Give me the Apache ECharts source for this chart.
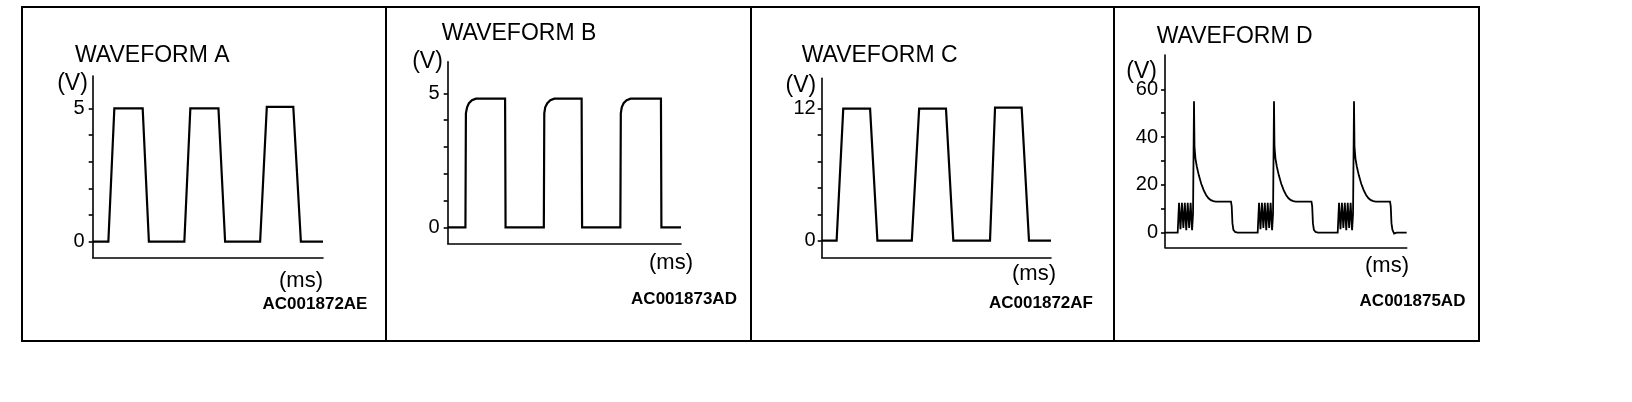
<!DOCTYPE html>
<html><head><meta charset="utf-8">
<script src="https://cdn.jsdelivr.net/npm/echarts@6/dist/echarts.min.js"></script>
<style>html,body{margin:0;padding:0;background:#fff}#c{width:1632px;height:402px}</style>
</head><body><div id="c"></div>
<script>
// ---- text ----
const panelTitles = ['WAVEFORM A', 'WAVEFORM B', 'WAVEFORM C', 'WAVEFORM D'];
const panelCodes = ['AC001872AE', 'AC001873AD', 'AC001872AF', 'AC001875AD'];
const yUnit = '(V)';
const xUnit = '(ms)';

// ---- waveform A (0..5 V) ----
const timeA = [0, 6.8, 9.4, 21.7, 24.4, 39.8, 42.4, 54.6, 57.5, 72.7, 75.6, 87.1, 90.4, 100];
const voltA = [0, 0, 5, 5, 0, 0, 5, 5, 0, 0, 5.05, 5.05, 0, 0];
const yTicksA = [0, 1, 2, 3, 4, 5];
const yLabelsA = [0, 5];

// ---- waveform B (0..5 V) ----
const timeB = [0, 7.6, 7.8, 8.3, 9.1, 10.4, 12.1, 24.6, 24.8, 41.2, 41.4, 41.8, 42.7, 44.0, 45.7, 57.4, 57.6, 74.0, 74.2, 74.6, 75.4, 76.7, 78.4, 91.4, 91.6, 100];
const voltB = [0, 0, 4.25, 4.48, 4.63, 4.74, 4.8, 4.8, 0, 0, 4.25, 4.48, 4.63, 4.74, 4.8, 4.8, 0, 0, 4.25, 4.48, 4.63, 4.74, 4.8, 4.8, 0, 0];
const yTicksB = [0, 1, 2, 3, 4, 5];
const yLabelsB = [0, 5];

// ---- waveform C (0..12 V) ----
const timeC = [0, 6.5, 9.4, 21.1, 24.3, 39.3, 42.5, 54.2, 57.4, 73.4, 75.6, 87.2, 90.4, 100];
const voltC = [0, 0, 12, 12, 0, 0, 12, 12, 0, 0, 12.1, 12.1, 0, 0];
const yTicksC = [0, 2.4, 4.8, 7.2, 9.6, 12];
const yLabelsC = [0, 12];

// ---- waveform D (0..60 V) ----
const timeD = [0, 5.25, 5.8, 6.4, 7.0, 7.6, 8.2, 8.8, 9.4, 10.0, 10.6, 11.2, 11.6, 12.0, 12.2, 12.6, 13.2, 14.0, 15.0, 16.0, 17.0, 18.0, 19.0, 20.0, 21.0, 27.3, 27.6, 27.9, 28.3, 29.0, 30.0,
  38.35, 38.9, 39.5, 40.1, 40.7, 41.3, 41.9, 42.5, 43.1, 43.7, 44.3, 44.7, 45.1, 45.3, 45.7, 46.3, 47.1, 48.1, 49.1, 50.1, 51.1, 52.1, 53.1, 54.1, 60.6, 60.9, 61.2, 61.6, 62.3, 63.3,
  71.45, 72.0, 72.6, 73.2, 73.8, 74.4, 75.0, 75.6, 76.2, 76.8, 77.4, 77.8, 78.2, 78.4, 78.8, 79.4, 80.2, 81.2, 82.2, 83.2, 84.2, 85.2, 86.2, 87.2, 93.1, 93.4, 93.7, 94.1, 94.8, 95.8, 100];
const voltD = [0, 0, 12.5, 1.5, 12.5, 2, 12.5, 1, 12.5, 2, 12.5, 1, 8, 55, 36, 31, 27.5, 24, 20.5, 17.8, 15.8, 14.4, 13.6, 13.2, 13, 13, 11, 4, 1.2, 0.3, 0,
  0, 12.5, 1.5, 12.5, 2, 12.5, 1, 12.5, 2, 12.5, 1, 8, 55, 36, 31, 27.5, 24, 20.5, 17.8, 15.8, 14.4, 13.6, 13.2, 13, 13, 11, 4, 1.2, 0.3, 0,
  0, 12.5, 1.5, 12.5, 2, 12.5, 1, 12.5, 2, 12.5, 1, 8, 55, 36, 31, 27.5, 24, 20.5, 17.8, 15.8, 14.4, 13.6, 13.2, 13, 13, 11, 4, 1.2, -0.4, 0, 0];
const yTicksD = [0, 10, 20, 30, 40, 50, 60];
const yLabelsD = [0, 20, 40, 60];

// ---- build ----
const FONT = '"Liberation Sans", Arial, Helvetica, sans-serif';
const zip = (t, v) => t.map((x, i) => [x, v[i]]);
const waves = [zip(timeA, voltA), zip(timeB, voltB), zip(timeC, voltC), zip(timeD, voltD)];
const ticks = [yTicksA, yTicksB, yTicksC, yTicksD];
const labels = [yLabelsA, yLabelsB, yLabelsC, yLabelsD];

// layout (pixels)
const grids = [
  { left: 92.7, top: 76, width: 230.3, height: 181.3 },
  { left: 447.7, top: 61.7, width: 233.3, height: 181.6 },
  { left: 821.7, top: 78.3, width: 229.3, height: 179 },
  { left: 1165, top: 55, width: 241.7, height: 192.3 }
];
const yRanges = [[-0.585, 6.21], [-0.597, 6.18], [-1.51, 14.76], [-6.11, 74.35]];
const labelMargins = [8, 8, 6, 7];
const lineWidths = [2.2, 2.2, 2.2, 1.8];
const titlePos = [[75, 55.5], [441.7, 33.5], [801.7, 55.2], [1156.7, 36.8]];
const vPos = [[72.5, 84], [427.5, 61.7], [800.8, 85.8], [1141.7, 71.7]];
const msPos = [[301, 281], [671, 263], [1034, 274], [1387, 266]];
const codePos = [[315, 304], [684, 299], [1041, 303.5], [1412.5, 301]];

const axisLineStyle = { color: '#000', width: 1.6 };

const option = {
  animation: false,
  backgroundColor: '#fff',
  grid: grids.map(g => Object.assign({ containLabel: false }, g)),
  xAxis: grids.map((g, i) => ({
    type: 'value', gridIndex: i, min: 0, max: 100,
    axisLine: { show: true, onZero: false, lineStyle: axisLineStyle },
    axisTick: { show: false }, axisLabel: { show: false }, splitLine: { show: false }
  })),
  yAxis: grids.map((g, i) => ({
    type: 'value', gridIndex: i, min: yRanges[i][0], max: yRanges[i][1],
    axisLine: { show: true, onZero: false, lineStyle: axisLineStyle },
    axisTick: { show: true, customValues: ticks[i], length: 4, lineStyle: axisLineStyle },
    axisLabel: { show: true, customValues: labels[i], margin: labelMargins[i], color: '#000', fontSize: 20, fontFamily: FONT },
    splitLine: { show: false }
  })),
  series: waves.map((d, i) => ({
    type: 'line', xAxisIndex: i, yAxisIndex: i, data: d,
    showSymbol: false, symbol: 'none', silent: true,
    lineStyle: { color: '#000', width: lineWidths[i], join: 'miter' }
  })),
  graphic: []
};

const txt = (s, x, y, size, weight, align) => ({
  type: 'text', silent: true,
  style: { text: s, x: x, y: y, fill: '#000', fontSize: size, fontFamily: FONT, fontWeight: weight,
    align: align, textAlign: align, verticalAlign: 'middle', textVerticalAlign: 'middle' }
});

// frame
option.graphic.push({ type: 'rect', silent: true, shape: { x: 22, y: 7, width: 1457, height: 334 },
  style: { fill: 'none', stroke: '#000', lineWidth: 2 } });
[386, 751, 1114].forEach(x => option.graphic.push({ type: 'line', silent: true,
  shape: { x1: x, y1: 7, x2: x, y2: 341 }, style: { stroke: '#000', lineWidth: 2 } }));

for (let i = 0; i < 4; i++) {
  option.graphic.push(txt(panelTitles[i], titlePos[i][0], titlePos[i][1], 23, 'normal', 'left'));
  option.graphic.push(txt(yUnit, vPos[i][0], vPos[i][1], 23, 'normal', 'center'));
  option.graphic.push(txt(xUnit, msPos[i][0], msPos[i][1], 22, 'normal', 'center'));
  option.graphic.push(txt(panelCodes[i], codePos[i][0], codePos[i][1], 17, 'bold', 'center'));
}

const chart = echarts.init(document.getElementById('c'), null, { renderer: 'canvas' });
chart.setOption(option);
</script>
</body></html>
